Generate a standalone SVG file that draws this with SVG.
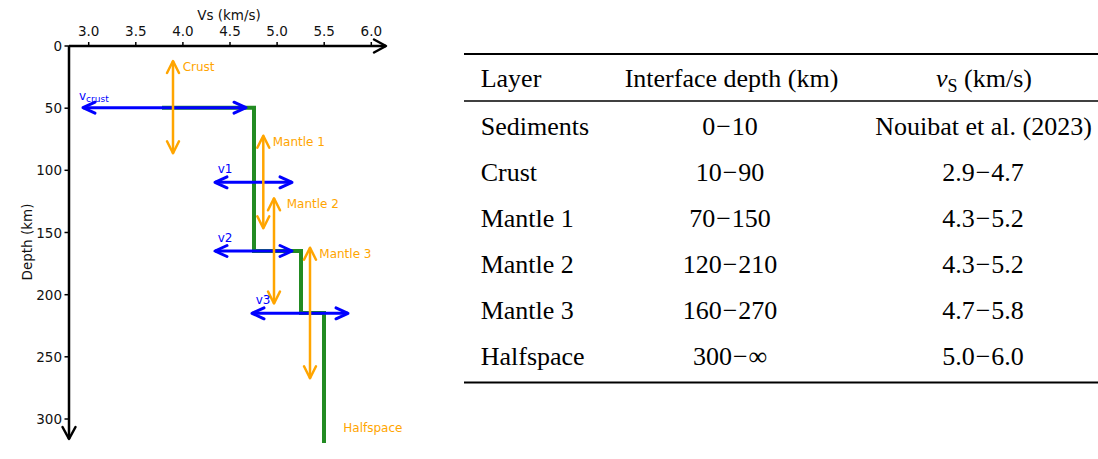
<svg xmlns="http://www.w3.org/2000/svg" width="1098" height="459" viewBox="0 0 1098 459">
<style>
.tick{font-family:"DejaVu Sans",sans-serif;font-size:13.5px;fill:#111}
.lab{font-family:"DejaVu Sans",sans-serif;font-size:12px}
.bl{fill:#0000ff}
.or{fill:#ffa500}
.tb{font-family:"Liberation Serif","Times New Roman",serif;font-size:26px;fill:#000}
.ax{stroke:#000;stroke-width:2.5;fill:none}
.tk{stroke:#000;stroke-width:1.5}
.barr{stroke:#0000ff;stroke-width:3;fill:none}
.oarr{stroke:#ffa500;stroke-width:2.5;fill:none}
.rule{stroke:#000}
</style>
<defs>
<marker id="mb" viewBox="-16 -10 20 20" refX="0" refY="0" markerWidth="20" markerHeight="20" markerUnits="userSpaceOnUse" orient="auto-start-reverse" overflow="visible">
<path d="M-12,-5.5 L0,0 L-12,5.5" fill="none" stroke="#0000ff" stroke-width="3" stroke-linejoin="round" stroke-linecap="round"/>
</marker>
<marker id="mo" viewBox="-16 -10 20 20" refX="0" refY="0" markerWidth="20" markerHeight="20" markerUnits="userSpaceOnUse" orient="auto-start-reverse" overflow="visible">
<path d="M-12,-6 L0,0 L-12,6" fill="none" stroke="#ffa500" stroke-width="2.5" stroke-linejoin="round" stroke-linecap="round"/>
</marker>
<marker id="mk" viewBox="-16 -10 20 20" refX="0" refY="0" markerWidth="20" markerHeight="20" markerUnits="userSpaceOnUse" orient="auto" overflow="visible">
<path d="M-12,-6.5 L0,0 L-12,6.5" fill="none" stroke="#000" stroke-width="2.5" stroke-linejoin="round" stroke-linecap="round"/>
</marker>
</defs>
<rect width="1098" height="459" fill="#fff"/>

<g id="axes">
<path class="ax" d="M69,46 H386" marker-end="url(#mk)"/>
<path class="ax" d="M69,46 V439" marker-end="url(#mk)"/>
<g class="tk">
<line x1="88.7" y1="46" x2="88.7" y2="42"/>
<line x1="135.8" y1="46" x2="135.8" y2="42"/>
<line x1="182.9" y1="46" x2="182.9" y2="42"/>
<line x1="230" y1="46" x2="230" y2="42"/>
<line x1="277.1" y1="46" x2="277.1" y2="42"/>
<line x1="324.2" y1="46" x2="324.2" y2="42"/>
<line x1="371.3" y1="46" x2="371.3" y2="42"/>
<line x1="69" y1="46" x2="64.5" y2="46"/>
<line x1="69" y1="108.2" x2="64.5" y2="108.2"/>
<line x1="69" y1="170.3" x2="64.5" y2="170.3"/>
<line x1="69" y1="232.5" x2="64.5" y2="232.5"/>
<line x1="69" y1="294.7" x2="64.5" y2="294.7"/>
<line x1="69" y1="356.8" x2="64.5" y2="356.8"/>
<line x1="69" y1="419" x2="64.5" y2="419"/>
</g>
<g class="tick" text-anchor="middle">
<text x="88.7" y="36">3.0</text>
<text x="135.8" y="36">3.5</text>
<text x="182.9" y="36">4.0</text>
<text x="230" y="36">4.5</text>
<text x="277.1" y="36">5.0</text>
<text x="324.2" y="36">5.5</text>
<text x="371.3" y="36">6.0</text>
<text x="229" y="19.5">Vs (km/s)</text>
<text transform="translate(32,242) rotate(-90)">Depth (km)</text>
</g>
<g class="tick" text-anchor="end">
<text x="62" y="51">0</text>
<text x="62" y="113.2">50</text>
<text x="62" y="175.3">100</text>
<text x="62" y="237.5">150</text>
<text x="62" y="299.7">200</text>
<text x="62" y="361.8">250</text>
<text x="62" y="424">300</text>
</g>
</g>

<g id="profile">
<path d="M162,107.7 H254 V251 H301 V313 H324 V443" fill="none" stroke="#228b22" stroke-width="4"/>
</g>

<g id="connectors">
<path class="barr" d="M83,107.7 H246" marker-start="url(#mb)" marker-end="url(#mb)"/>
<path class="barr" d="M215,182.3 H292" marker-start="url(#mb)" marker-end="url(#mb)"/>
<path class="barr" d="M215,251 H292" marker-start="url(#mb)" marker-end="url(#mb)"/>
<path class="barr" d="M252,313.3 H348" marker-start="url(#mb)" marker-end="url(#mb)"/>
<path class="oarr" d="M173,61 V153.3" marker-start="url(#mo)" marker-end="url(#mo)"/>
<path class="oarr" d="M263.3,135.7 V228.3" marker-start="url(#mo)" marker-end="url(#mo)"/>
<path class="oarr" d="M274,198.3 V303.5" marker-start="url(#mo)" marker-end="url(#mo)"/>
<path class="oarr" d="M310,247.7 V378.3" marker-start="url(#mo)" marker-end="url(#mo)"/>
</g>

<g id="labels">
<text class="lab bl" x="79" y="99.5">v<tspan font-size="9" dy="2">crust</tspan></text>
<text class="lab bl" x="217.7" y="173.3">v1</text>
<text class="lab bl" x="217.7" y="241.7">v2</text>
<text class="lab bl" x="255.7" y="304">v3</text>
<text class="lab or" x="182.7" y="71">Crust</text>
<text class="lab or" x="272.7" y="146">Mantle 1</text>
<text class="lab or" x="286.7" y="207.7">Mantle 2</text>
<text class="lab or" x="319.3" y="257.7">Mantle 3</text>
<text class="lab or" x="343.3" y="432">Halfspace</text>
</g>

<g id="table">
<line class="rule" x1="464" y1="54" x2="1098" y2="54" stroke-width="2"/>
<line class="rule" x1="464" y1="101" x2="1098" y2="101" stroke-width="1.6"/>
<line class="rule" x1="464" y1="382.5" x2="1098" y2="382.5" stroke-width="2"/>
<g class="tb">
<text x="480.7" y="86.7">Layer</text>
<text x="731.5" y="86.7" text-anchor="middle">Interface depth (km)</text>
<text x="984" y="86.7" text-anchor="middle"><tspan font-style="italic">v</tspan><tspan font-size="18" dy="5">S</tspan><tspan dy="-5"> (km/s)</tspan></text>

<text x="480.7" y="135">Sediments</text>
<text x="480.7" y="180.5">Crust</text>
<text x="480.7" y="226.7">Mantle 1</text>
<text x="480.7" y="273">Mantle 2</text>
<text x="480.7" y="318.5">Mantle 3</text>
<text x="480.7" y="365">Halfspace</text>
</g>
<g class="tb" text-anchor="middle">
<text x="730" y="135">0<tspan dx="1">−</tspan><tspan dx="1">10</tspan></text>
<text x="730" y="180.5">10<tspan dx="1">−</tspan><tspan dx="1">90</tspan></text>
<text x="730" y="226.7">70<tspan dx="1">−</tspan><tspan dx="1">150</tspan></text>
<text x="730" y="273">120<tspan dx="1">−</tspan><tspan dx="1">210</tspan></text>
<text x="730" y="318.5">160<tspan dx="1">−</tspan><tspan dx="1">270</tspan></text>
<text x="730" y="365">300<tspan dx="1">−</tspan><tspan dx="1">∞</tspan></text>

<text x="983.5" y="135">Nouibat et al. (2023)</text>
<text x="983" y="180.5">2.9<tspan dx="1">−</tspan><tspan dx="1">4.7</tspan></text>
<text x="983" y="226.7">4.3<tspan dx="1">−</tspan><tspan dx="1">5.2</tspan></text>
<text x="983" y="273">4.3<tspan dx="1">−</tspan><tspan dx="1">5.2</tspan></text>
<text x="983" y="318.5">4.7<tspan dx="1">−</tspan><tspan dx="1">5.8</tspan></text>
<text x="983" y="365">5.0<tspan dx="1">−</tspan><tspan dx="1">6.0</tspan></text>
</g>
</g>
</svg>
